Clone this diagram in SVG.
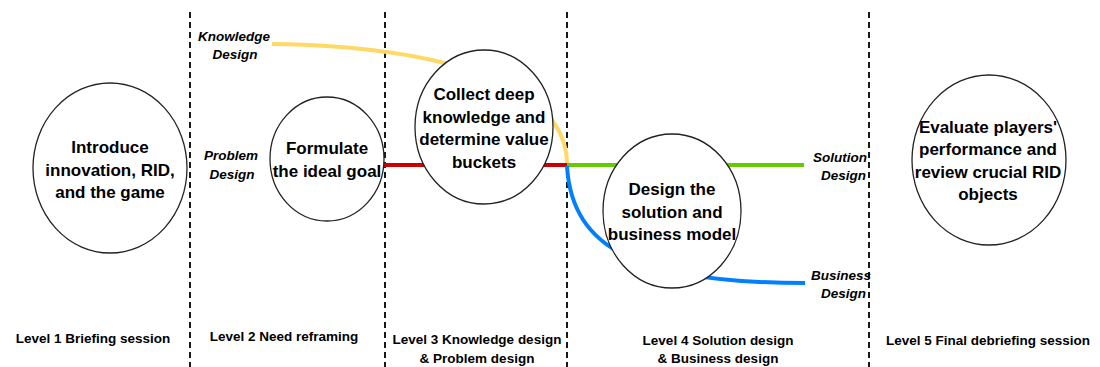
<svg xmlns="http://www.w3.org/2000/svg" width="1100" height="367" viewBox="0 0 1100 367">
<style>
.div{stroke:#000;stroke-width:1.8;stroke-dasharray:6 4;fill:none}
.node{fill:#fff;stroke:#222;stroke-width:1.3}
.nt{font-family:"Liberation Sans",Arial,sans-serif;font-weight:bold;font-size:17px;text-anchor:middle;fill:#000}
.lab{font-family:"Liberation Sans",Arial,sans-serif;font-weight:bold;font-style:italic;font-size:13.5px;text-anchor:middle;fill:#000}
.lvl{font-family:"Liberation Sans",Arial,sans-serif;font-weight:bold;font-size:13.5px;text-anchor:middle;fill:#000}
.ln{fill:none;stroke-width:4}
</style>
<rect width="1100" height="367" fill="#fff"/>
<g id="dividers">
<line class="div" x1="190" y1="12" x2="190" y2="367"/>
<line class="div" x1="385" y1="12" x2="385" y2="367"/>
<line class="div" x1="567" y1="12" x2="567" y2="367"/>
<line class="div" x1="869" y1="12" x2="869" y2="367"/>
</g>
<g id="connectors">
<path class="ln" stroke="#FFD966" d="M272,44 C430,46 567,80 567,165"/>
<path class="ln" stroke="#CC0000" d="M270,165 L567,165"/>
<path class="ln" stroke="#66CC00" d="M567,165 L804,165"/>
<path class="ln" stroke="#007FFF" d="M567,166 C572,250 640,283 805,283"/>
</g>
<g id="n1"><ellipse class="node" cx="110" cy="168" rx="77" ry="85"/>
<text class="nt"><tspan x="110" y="153">Introduce</tspan><tspan x="110" y="176">innovation, RID,</tspan><tspan x="110" y="198">and the game</tspan></text></g>
<g id="n2"><ellipse class="node" cx="327" cy="159" rx="57" ry="62"/>
<text class="nt"><tspan x="327" y="154">Formulate</tspan><tspan x="327" y="177">the ideal goal</tspan></text></g>
<g id="n3"><ellipse class="node" cx="484" cy="127" rx="69" ry="77"/>
<text class="nt"><tspan x="484" y="100">Collect deep</tspan><tspan x="484" y="123">knowledge and</tspan><tspan x="484" y="145">determine value</tspan><tspan x="484" y="168">buckets</tspan></text></g>
<g id="n4"><ellipse class="node" cx="672" cy="211" rx="69" ry="77"/>
<text class="nt"><tspan x="672" y="195">Design the</tspan><tspan x="672" y="218">solution and</tspan><tspan x="672" y="240">business model</tspan></text></g>
<g id="n5"><ellipse class="node" cx="989" cy="160" rx="77" ry="85"/>
<text class="nt"><tspan x="988" y="133">Evaluate players'</tspan><tspan x="988" y="155">performance and</tspan><tspan x="988" y="178">review crucial RID</tspan><tspan x="988" y="200">objects</tspan></text></g>
<g id="labels">
<text class="lab"><tspan x="234" y="41">Knowledge</tspan><tspan x="235" y="59">Design</tspan></text>
<text class="lab"><tspan x="231" y="160">Problem</tspan><tspan x="232" y="179">Design</tspan></text>
<text class="lab" style="text-anchor:end"><tspan x="867" y="162">Solution</tspan><tspan x="866" y="180">Design</tspan></text>
<text class="lab" style="text-anchor:end"><tspan x="871" y="280">Business</tspan><tspan x="866" y="298">Design</tspan></text>
</g>
<g id="levels">
<text class="lvl" x="93" y="343">Level 1 Briefing session</text>
<text class="lvl" x="284" y="341">Level 2 Need reframing</text>
<text class="lvl"><tspan x="477" y="344">Level 3 Knowledge design</tspan><tspan x="477" y="363">&amp; Problem design</tspan></text>
<text class="lvl"><tspan x="718" y="345">Level 4 Solution design</tspan><tspan x="718" y="363">&amp; Business design</tspan></text>
<text class="lvl" x="988" y="345">Level 5 Final debriefing session</text>
</g>
</svg>
